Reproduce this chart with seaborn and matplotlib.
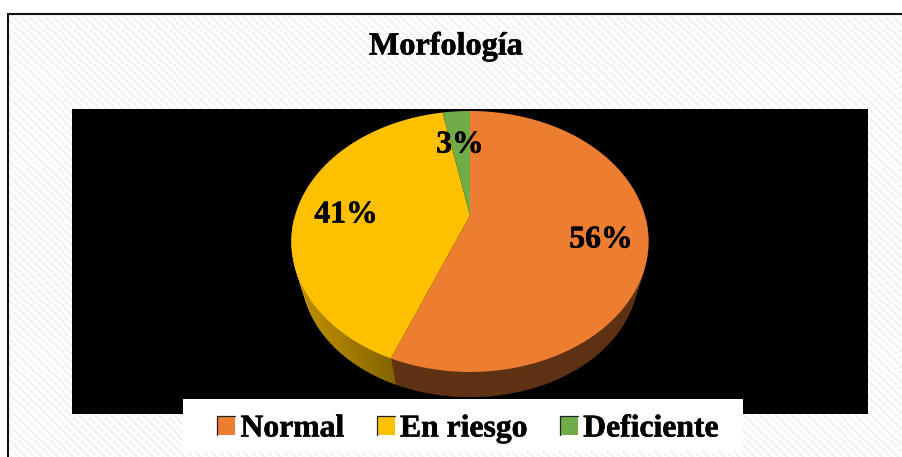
import numpy as np
import matplotlib
matplotlib.use("Agg")
import matplotlib.pyplot as plt
import matplotlib.patheffects as pe
from matplotlib.patches import Rectangle
from matplotlib.legend_handler import HandlerBase
import seaborn as sns

# Data
categories = ["Normal", "En riesgo", "Deficiente"]
percentages = [56, 41, 3]
pct_labels = ["56%", "41%", "3%"]
title_text = "Morfología"

# Styles
top_colors = ["#ED7D31", "#FFC000", "#70AD47"]
side_shade = [0.40, 0.50, 0.45]
label_pos = [(601, 240), (346, 215), (460, 145)]

sns.set_theme(style="white", palette=sns.color_palette(top_colors))
plt.rcParams["font.family"] = ["Liberation Serif", "DejaVu Serif"]
plt.rcParams["font.weight"] = "bold"
plt.rcParams["text.color"] = "black"

W, H = 903, 457
fig = plt.figure(figsize=(W / 100, H / 100), dpi=100)
ax = fig.add_axes([0, 0, 1, 1])
ax.set_xlim(0, W)
ax.set_ylim(H, 0)
ax.axis("off")

# woven light background inside the frame
yy, xx = np.mgrid[0:H, 0:W]
weave = ((xx - yy) % 8 < 4) & ~(((xx + yy) % 8 < 2) & ((xx - yy) % 16 < 8))
tex = np.where(weave, 0.955, 1.0)
ax.imshow(tex, cmap="gray", vmin=0, vmax=1, extent=(8, W, H, 13), zorder=0,
          interpolation="nearest", aspect="auto")
ax.set_xlim(0, W)
ax.set_ylim(H, 0)
ax.plot([8.5, 8.5, W], [H, 13.5, 13.5], color="#111111", lw=1.5, zorder=1,
        solid_joinstyle="miter")

# plot area
ax.add_patch(Rectangle((72, 109), 796, 305, fc="black", ec="none", zorder=1))

# pie geometry (tilted disc with perspective)
cx, cy, rx, ry = 470, 241.5, 178.5, 130.5
a = 0.2
bx, by, brx, bry = 470, 275, 168, 122


def project(theta):
    X, Y = np.sin(theta), np.cos(theta)
    d = 1 + a * Y
    return X * np.sqrt(1 - a * a) / d, (Y + a) / d


fractions = np.array(percentages, dtype=float) / np.sum(percentages)
edges = np.concatenate([[0], np.cumsum(fractions)]) * 2 * np.pi
apex = (cx, cy - a * ry)

# side wall
for i in range(len(percentages)):
    ts = np.linspace(edges[i], edges[i + 1], 90)
    base = np.array(matplotlib.colors.to_rgb(top_colors[i]))
    for t0, t1 in zip(ts[:-1], ts[1:]):
        u0, v0 = project(t0)
        u1, v1 = project(t1 + 0.004)
        if v0 > 0.15 and v1 > 0.15:
            continue
        # light falls from the left: brighter near the far left of the wall
        left = np.clip((-0.5 * (u0 + u1) - 0.4) / 0.6, 0, 1)
        c = base * (side_shade[i] + 0.28 * left)
        ax.fill([cx + rx * u0, cx + rx * u1, bx + brx * u1, bx + brx * u0],
                [cy - ry * v0, cy - ry * v1, by - bry * v1, by - bry * v0],
                color=c, lw=0.3, zorder=2)

# top surface
for i in range(len(percentages)):
    ts = np.linspace(edges[i], edges[i + 1], 200)
    u, v = project(ts)
    ax.fill(np.r_[apex[0], cx + rx * u], np.r_[apex[1], cy - ry * v],
            color=top_colors[i], lw=0, zorder=3)

heavy = [pe.withStroke(linewidth=0.4, foreground="black")]

# labels
for lab, (lx, ly) in zip(pct_labels, label_pos):
    ax.text(lx, ly, lab, fontsize=22.8, fontweight="bold", color="black",
            ha="center", va="center", zorder=5, path_effects=heavy)

ax.text(446, 47, title_text, fontsize=23.2, fontweight="bold", color="black",
        ha="center", va="center", zorder=5, path_effects=heavy)

# legend
ax.add_patch(Rectangle((183, 399), 560, 52, fc="white", ec="none", zorder=4))


class SwatchHandler(HandlerBase):
    def create_artists(self, legend, orig, xd, yd, w, h, fontsize, trans):
        r = Rectangle((-xd, -yd), w, h, fc=orig.get_facecolor(), ec="none",
                      transform=trans)
        t = plt.Line2D([-xd, -xd, -xd + w], [-yd, -yd + h, -yd + h], color="#222222",
                       lw=0.9, transform=trans, solid_joinstyle="miter")
        return [r, t]


handles = [Rectangle((0, 0), 1, 1, fc=c) for c in top_colors]
leg = ax.legend(handles, categories, ncol=3, frameon=False,
                prop={"family": "Liberation Serif", "weight": "bold", "size": 22.8},
                labelcolor="black",
                handlelength=0.57, handleheight=0.53, handletextpad=0.17,
                columnspacing=1.02, borderpad=0, borderaxespad=0,
                loc="center", bbox_to_anchor=(468 / W, 1 - 429 / H),
                bbox_transform=fig.transFigure,
                handler_map={Rectangle: SwatchHandler()})
leg.set_zorder(6)
for txt in leg.get_texts():
    txt.set_path_effects(heavy)

fig.savefig("out.png", dpi=100)
